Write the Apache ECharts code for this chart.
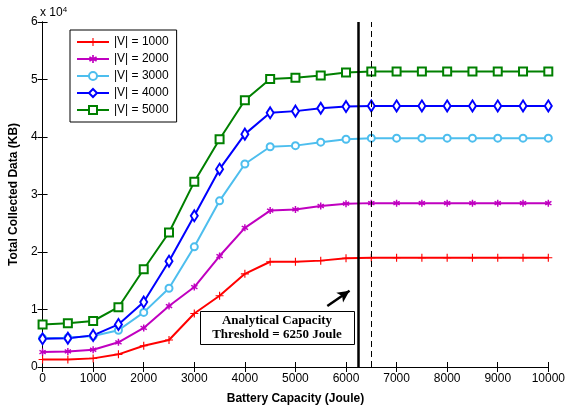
<!DOCTYPE html>
<html>
<head>
<meta charset="utf-8">
<script src="https://cdn.jsdelivr.net/npm/echarts@6/dist/echarts.min.js"></script>
<style>
  html, body { margin: 0; padding: 0; background: #fff; }
  #chart { width: 568px; height: 411px; }
</style>
</head>
<body>
<div id="chart"></div>
<script>
  // battery capacity (Joule)
  var capacity = [0, 500, 1000, 1500, 2000, 2500, 3000, 3500, 4000, 4500, 5000, 5500, 6000, 6500, 7000, 7500, 8000, 8500, 9000, 9500, 10000];

  // total collected data (KB)
  var v1000 = [1300, 1300, 1500, 2200, 3700, 4700, 9300, 12400, 16200, 18300, 18300, 18500, 18900, 19000, 19000, 19000, 19000, 19000, 19000, 19000, 19000];
  var v2000 = [2600, 2700, 3000, 4300, 6800, 10600, 13900, 19300, 24200, 27200, 27400, 28000, 28400, 28500, 28500, 28500, 28500, 28500, 28500, 28500, 28500];
  var v3000 = [5000, 5100, 5400, 6400, 9500, 13700, 20900, 28900, 35300, 38300, 38500, 39100, 39600, 39800, 39800, 39800, 39800, 39800, 39800, 39800, 39800];
  var v4000 = [4900, 5000, 5500, 7400, 11300, 18400, 26300, 34400, 40500, 44200, 44500, 45000, 45300, 45400, 45400, 45400, 45400, 45400, 45400, 45400, 45400];
  var v5000 = [7400, 7600, 8000, 10400, 17000, 23400, 32200, 39600, 46400, 50100, 50300, 50700, 51200, 51400, 51400, 51400, 51400, 51400, 51400, 51400, 51400];

  var threshold = 6250;
  var dashedAt = 6500;
  var arrowFrom = [5630, 10600];
  var arrowTo = [6070, 13250];

  var plus = 'path://M4.3,0H5.7V4.3H10V5.7H5.7V10H4.3V5.7H0V4.3H4.3Z';
  var star = 'path://M4,0H6V3.2L8.8,1.6L9.8,3.4L7,5L9.8,6.6L8.8,8.4L6,6.8V10H4V6.8L1.2,8.4L0.2,6.6L3,5L0.2,3.4L1.2,1.6L4,3.2Z';

  function pairs(vals) {
    return capacity.map(function (c, i) { return [c, vals[i]]; });
  }

  function mkSeries(name, vals, color, symbol, size) {
    return {
      name: name,
      type: 'line',
      data: pairs(vals),
      symbol: symbol,
      symbolSize: size,
      showAllSymbol: true,
      lineStyle: { color: color, width: 2 },
      itemStyle: { color: color, borderColor: color, borderWidth: 1.5 },
      animation: false,
      z: 3
    };
  }

  var series = [
    mkSeries('|V| = 1000', v1000, '#ff0000', plus, 8),
    mkSeries('|V| = 2000', v2000, '#c000c0', star, 7),
    mkSeries('|V| = 3000', v3000, '#4dbeee', 'emptyCircle', 7),
    mkSeries('|V| = 4000', v4000, '#0000ff', 'emptyDiamond', [7, 11]),
    mkSeries('|V| = 5000', v5000, '#008000', 'emptyRect', 8)
  ];
  series[0].itemStyle.borderWidth = 0;
  series[1].itemStyle.borderWidth = 0;

  series[0].markLine = {
    silent: true,
    animation: false,
    label: { show: false },
    data: [
      [{ coord: [threshold, 0], symbol: 'none' }, { coord: [threshold, 60000], symbol: 'none', lineStyle: { color: '#000', width: 2.5, type: 'solid' } }],
      [{ coord: [dashedAt, 0], symbol: 'none' }, { coord: [dashedAt, 60000], symbol: 'none', lineStyle: { color: '#000', width: 1, type: [6, 4] } }],
      [{ coord: arrowFrom, symbol: 'none' }, { coord: arrowTo, symbol: 'arrow', symbolSize: [9, 12], lineStyle: { color: '#000', width: 2.5, type: 'solid' } }]
    ]
  };

  var chart = echarts.init(document.getElementById('chart'));
  var font = 'Liberation Sans, Arial, sans-serif';

  var option = {
    backgroundColor: '#fff',
    grid: { left: 38, right: 13, top: 22, bottom: 44 },
    legend: {
      orient: 'vertical',
      left: 70,
      top: 30,
      padding: [6, 8, 6, 6],
      itemGap: 5,
      itemWidth: 32,
      itemHeight: 10,
      borderColor: '#000',
      borderWidth: 1,
      backgroundColor: '#fff',
      textStyle: { fontFamily: font, fontSize: 12, color: '#000' },
      data: series.map(function (s) { return s.name; })
    },
    xAxis: [{
      type: 'value', min: 0, max: 10000, interval: 1000,
      name: 'Battery Capacity (Joule)', nameLocation: 'middle', nameGap: 26,
      nameTextStyle: { fontFamily: font, fontSize: 12, fontWeight: 'bold', color: '#000' },
      axisLine: { lineStyle: { color: '#000', width: 1 } },
      axisTick: { inside: true, length: 5, lineStyle: { color: '#000' } },
      axisLabel: { color: '#000', fontFamily: font, fontSize: 12, margin: 6,
        formatter: function (v) { return String(v); } },
      splitLine: { show: false }
    }, {
      type: 'value', position: 'top', min: 0, max: 10000, interval: 1000,
      axisLine: { show: true, lineStyle: { color: '#000', width: 1 } },
      axisTick: { inside: true, length: 5, lineStyle: { color: '#000' } },
      axisLabel: { show: false },
      splitLine: { show: false }
    }],
    yAxis: [{
      type: 'value', min: 0, max: 60000, interval: 10000,
      name: 'Total Collected Data (KB)', nameLocation: 'middle', nameGap: 20,
      nameTextStyle: { fontFamily: font, fontSize: 12, fontWeight: 'bold', color: '#000' },
      axisLine: { show: true, lineStyle: { color: '#000', width: 1 } },
      axisTick: { inside: true, length: 5, lineStyle: { color: '#000' } },
      axisLabel: { color: '#000', fontFamily: font, fontSize: 12, margin: 5,
        formatter: function (v) { return String(v / 10000); } },
      splitLine: { show: false }
    }, {
      type: 'value', position: 'right', min: 0, max: 60000, interval: 10000,
      axisLine: { show: true, lineStyle: { color: '#000', width: 1 } },
      axisTick: { inside: true, length: 5, lineStyle: { color: '#000' } },
      axisLabel: { show: false },
      splitLine: { show: false }
    }],
    graphic: [
      {
        type: 'text', left: 40, top: 6,
        style: {
          text: '{b|x 10}{s|4}',
          rich: {
            b: { fontFamily: font, fontSize: 12, fill: '#000' },
            s: { fontFamily: font, fontSize: 8, fill: '#000', verticalAlign: 'top', padding: [0, 0, 6, 0] }
          }
        }
      },
      {
        type: 'rect', left: 200, top: 311, z: 10,
        shape: { width: 154, height: 33 },
        style: { fill: '#fff', stroke: '#000', lineWidth: 1 }
      },
      {
        type: 'text', x: 277, y: 314, z: 11,
        style: {
          text: 'Analytical Capacity\nThreshold = 6250 Joule',
          align: 'center',
          verticalAlign: 'top',
          fontFamily: 'Liberation Serif, Times New Roman, serif',
          fontSize: 13, fontWeight: 'bold', lineHeight: 14, fill: '#000'
        }
      }
    ],
    series: series
  };

  chart.setOption(option);
</script>
</body>
</html>
